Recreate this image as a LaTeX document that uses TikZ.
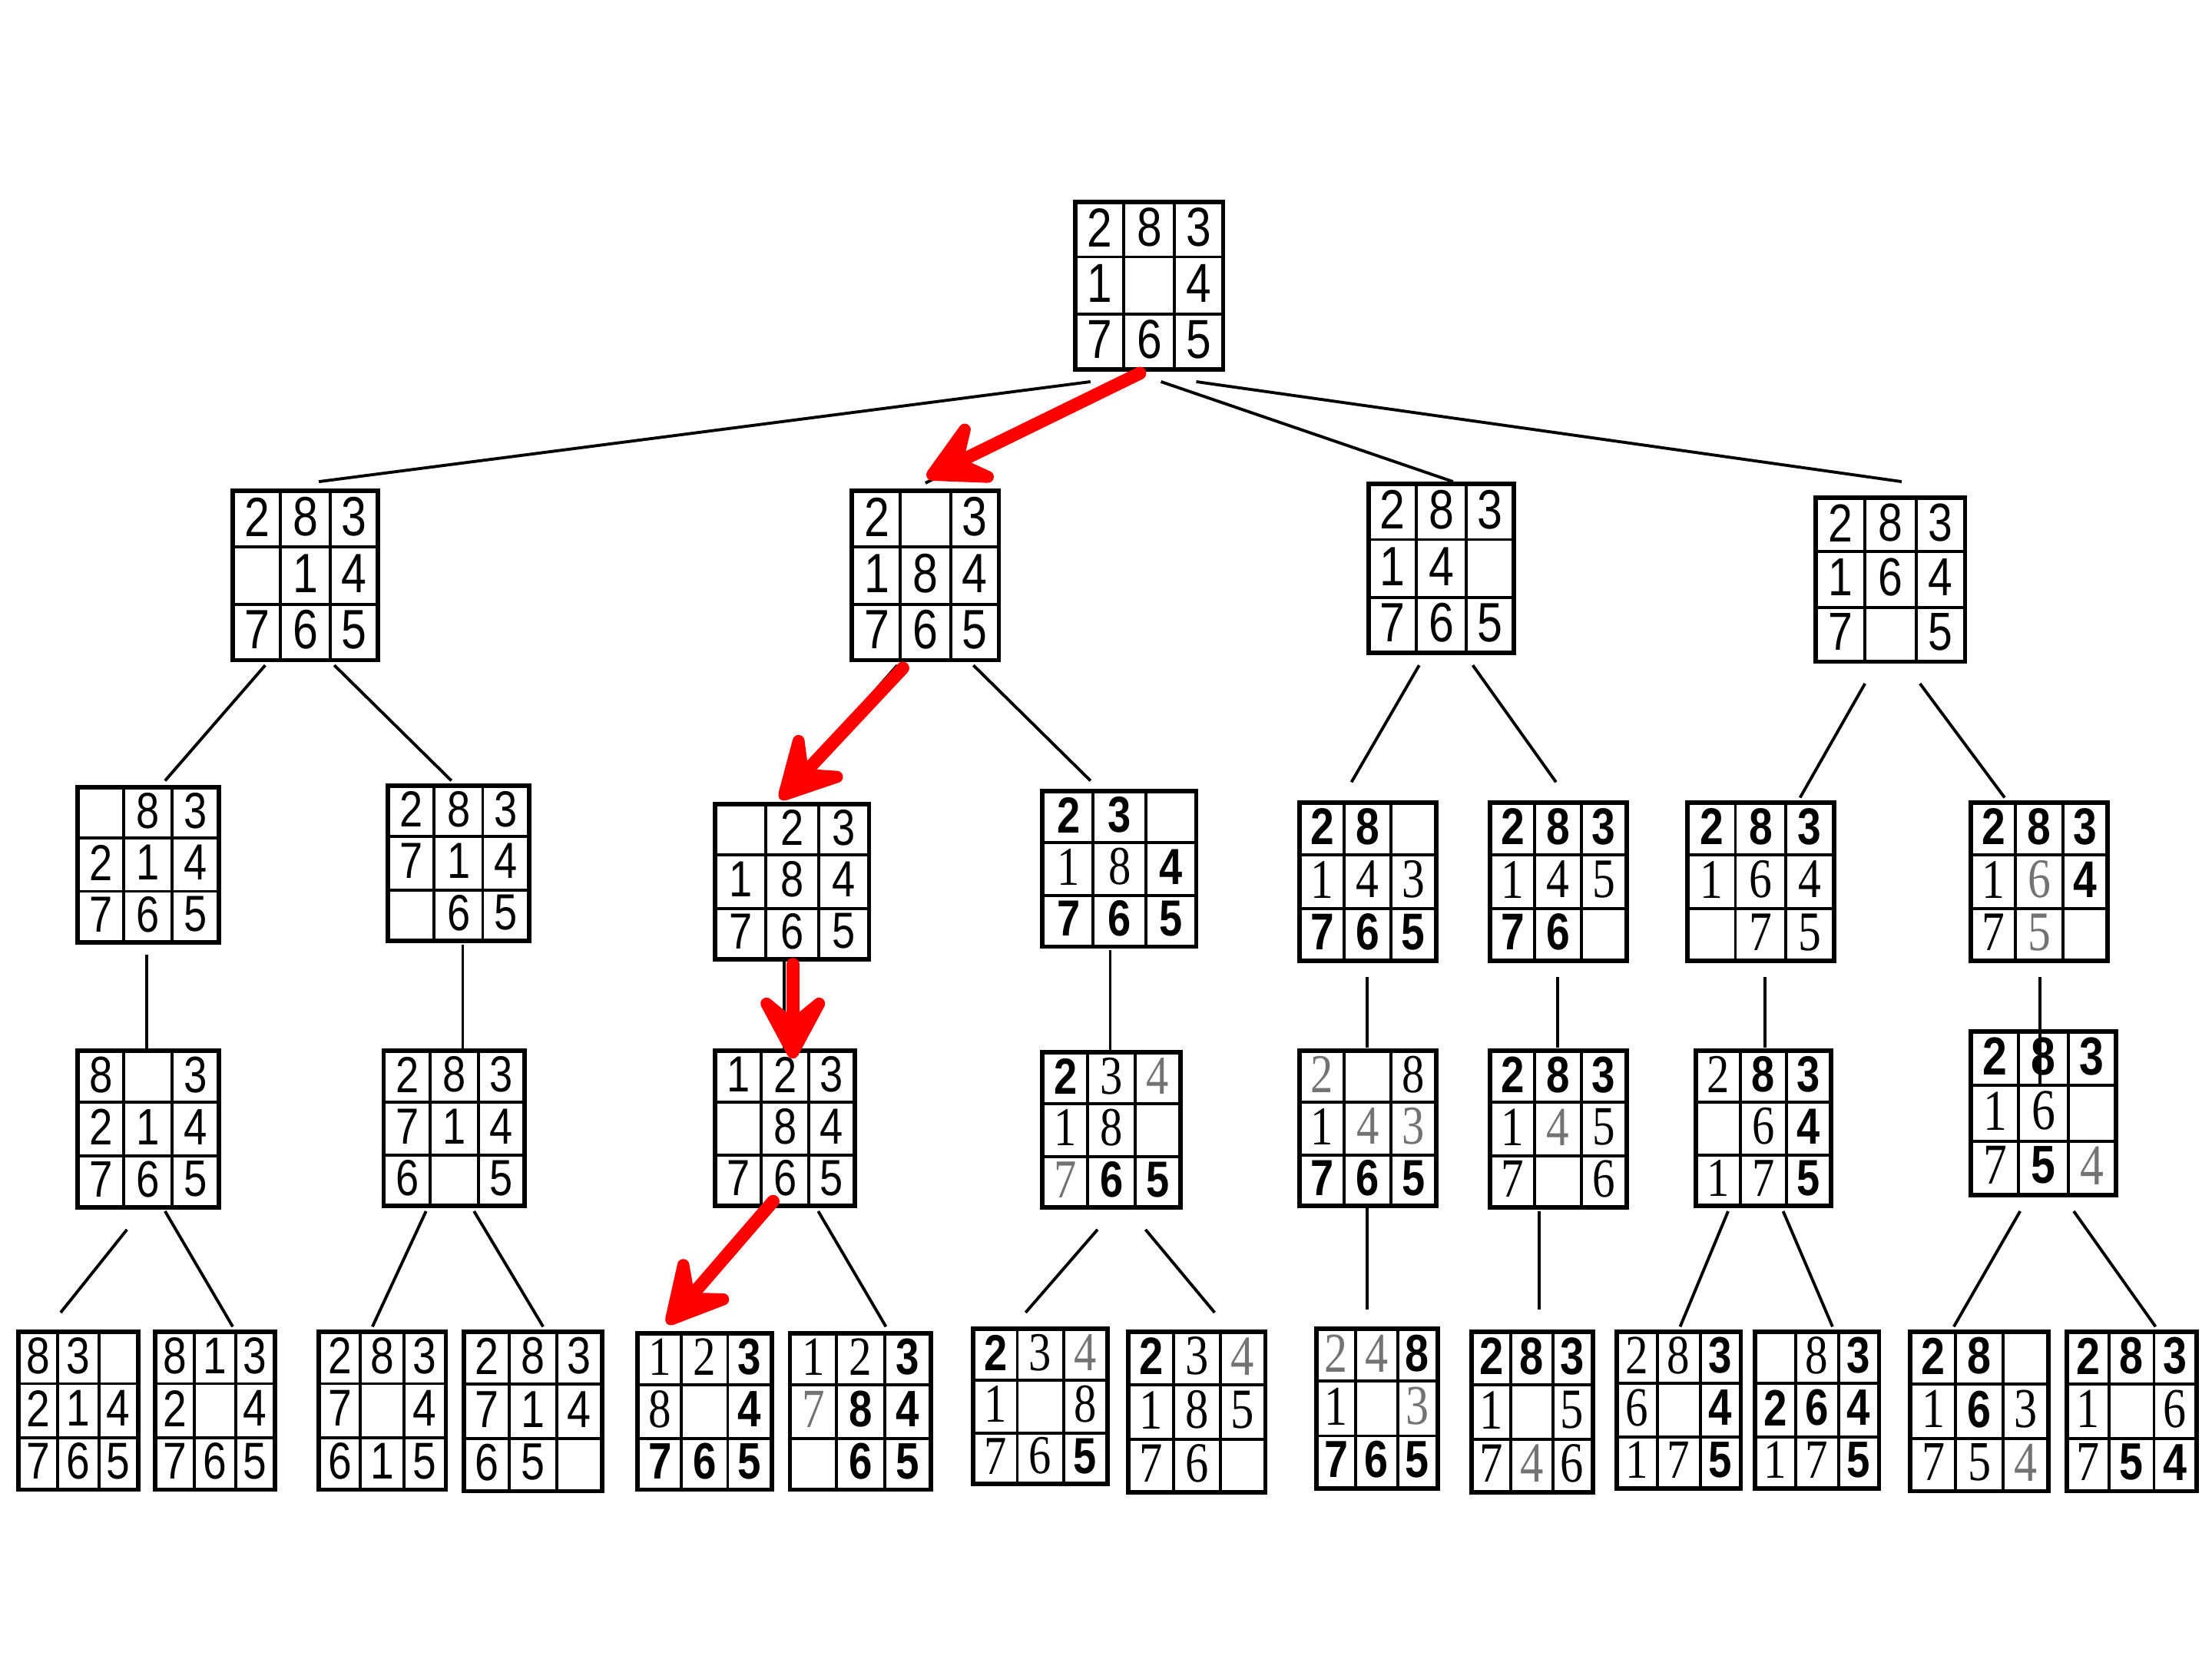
\documentclass[tikz,border=0pt]{standalone}
\usepackage{fontspec}
\setsansfont{Liberation Sans}
\newfontfamily\serifdig{Liberation Serif}
\usetikzlibrary{arrows.meta, calc}

% digit faces used in the lower boards
\newcommand{\bd}[1]{{\bfseries #1}}
\newcommand{\sr}[1]{{\serifdig\scalebox{1.08}{#1}}}
\newcommand{\gy}[1]{{\serifdig\color{black!55}\scalebox{1.08}{#1}}}

% 3x3 board: name, left, top, right, bottom, cells
\newcommand{\puzzle}[6]{%
  \pgfmathsetmacro\bw{#4-#2}%
  \pgfmathsetmacro\bh{#5-#3}%
  \pgfmathsetmacro\fs{\bh*0.093}%
  \node[stateframe, minimum width=\bw*0.01cm, minimum height=\bh*0.01cm] (#1) at ({(#2+#4)/2},{(#3+#5)/2}) {};
  \foreach \k in {1,2} {
    \draw[cellline] ($(#1.north west)!\k/3!(#1.north east)$) -- ($(#1.south west)!\k/3!(#1.south east)$);
    \draw[cellline] ($(#1.north west)!\k/3!(#1.south west)$) -- ($(#1.north east)!\k/3!(#1.south east)$);
  }
  \foreach \c [count=\i from 0] in {#6} {
    \pgfmathtruncatemacro\row{\i/3}
    \pgfmathtruncatemacro\col{mod(\i,3)}
    \node[digit] at ($(#1.north west)+({(\col+0.55)*\bw/3},{(\row+0.5)*\bh/3})$) {\scalebox{0.82}[1]{\c}};
  }
}

\begin{document}
\begin{tikzpicture}[
    x=0.01cm, y=-0.01cm,
    stateframe/.style={draw, line width=0.9pt, fill=white, inner sep=0pt},
    cellline/.style={line width=0.6pt},
    digit/.style={inner sep=0pt, font=\sffamily\fontsize{\fs}{\fs}\selectfont},
    link/.style={line width=0.6pt},
    bestmove/.style={draw=red, line width=2.6pt, line cap=round,
        -{Stealth[length=6mm, width=6.4mm, inset=2.6mm, round]}}
]
    \useasboundingbox (0,0) rectangle (1568,1176);

    % Start state
    \puzzle{s0}{762}{143}{867}{262}{2,8,3,1,{},4,7,6,5}

    % --- Level 1 ---
    \puzzle{s1}{165}{348}{268}{468}{2,8,3,{},1,4,7,6,5}
    \puzzle{s2}{604}{348}{708}{468}{2,{},3,1,8,4,7,6,5}
    \puzzle{s3}{970}{343}{1073}{463}{2,8,3,1,4,{},7,6,5}
    \puzzle{s4}{1287}{353}{1393}{469}{2,8,3,1,6,4,7,{},5}

    % --- Level 2 ---
    \puzzle{s11}{55}{558}{155}{668}{{},8,3,2,1,4,7,6,5}
    \puzzle{s12}{275}{557}{375}{667}{2,8,3,7,1,4,{},6,5}
    \puzzle{s21}{507}{570}{616}{680}{{},2,3,1,8,4,7,6,5}
    \puzzle{s22}{739}{561}{848}{671}{\bd2,\bd3,{},\sr1,\sr8,\bd4,\bd7,\bd6,\bd5}
    \puzzle{s31}{921}{569}{1018}{681}{\bd2,\bd8,{},\sr1,\sr4,\sr3,\bd7,\bd6,\bd5}
    \puzzle{s32}{1056}{569}{1153}{681}{\bd2,\bd8,\bd3,\sr1,\sr4,\sr5,\bd7,\bd6,{}}
    \puzzle{s41}{1196}{569}{1300}{681}{\bd2,\bd8,\bd3,\sr1,\sr6,\sr4,{},\sr7,\sr5}
    \puzzle{s42}{1397}{569}{1494}{681}{\bd2,\bd8,\bd3,\sr1,\gy6,\bd4,\sr7,\gy5,{}}

    % --- Level 3 ---
    \puzzle{s111}{55}{745}{155}{856}{8,{},3,2,1,4,7,6,5}
    \puzzle{s121}{272}{745}{372}{855}{2,8,3,7,1,4,6,{},5}
    \puzzle{s211}{507}{745}{606}{855}{1,2,3,{},8,4,7,6,5}
    \puzzle{s221}{739}{746}{837}{856}{\bd2,\sr3,\gy4,\sr1,\sr8,{},\gy7,\bd6,\bd5}
    \puzzle{s311}{921}{745}{1018}{855}{\gy2,{},\sr8,\sr1,\gy4,\gy3,\bd7,\bd6,\bd5}
    \puzzle{s321}{1056}{745}{1153}{856}{\bd2,\bd8,\bd3,\sr1,\gy4,\sr5,\sr7,{},\sr6}
    \puzzle{s411}{1202}{745}{1298}{855}{\sr2,\bd8,\bd3,{},\sr6,\bd4,\sr1,\sr7,\bd5}
    \puzzle{s421}{1397}{731}{1500}{847}{\bd2,\bd8,\bd3,\sr1,\sr6,{},\sr7,\bd5,\gy4}

    % --- Level 4 ---
    \puzzle{s1111}{13}{944}{98}{1056}{8,3,{},2,1,4,7,6,5}
    \puzzle{s1112}{110}{944}{195}{1056}{8,1,3,2,{},4,7,6,5}
    \puzzle{s1211}{226}{944}{316}{1056}{2,8,3,7,{},4,6,1,5}
    \puzzle{s1212}{329}{944}{427}{1057}{2,8,3,7,1,4,6,5,{}}
    \puzzle{s2111}{452}{945}{547}{1056}{\sr1,\sr2,\bd3,\sr8,{},\bd4,\bd7,\bd6,\bd5}
    \puzzle{s2112}{560}{945}{660}{1056}{\sr1,\sr2,\bd3,\gy7,\bd8,\bd4,{},\bd6,\bd5}
    \puzzle{s2211}{690}{942}{785}{1052}{\bd2,\sr3,\gy4,\sr1,{},\sr8,\sr7,\sr6,\bd5}
    \puzzle{s2212}{800}{944}{897}{1058}{\bd2,\sr3,\gy4,\sr1,\sr8,\sr5,\sr7,\sr6,{}}
    \puzzle{s3111}{933}{942}{1019}{1055}{\gy2,\gy4,\bd8,\sr1,{},\gy3,\bd7,\bd6,\bd5}
    \puzzle{s3211}{1043}{944}{1129}{1058}{\bd2,\bd8,\bd3,\sr1,{},\sr5,\sr7,\gy4,\sr6}
    \puzzle{s4111}{1146}{944}{1234}{1055}{\sr2,\sr8,\bd3,\sr6,{},\bd4,\sr1,\sr7,\bd5}
    \puzzle{s4112}{1244}{944}{1332}{1055}{{},\sr8,\bd3,\bd2,\bd6,\bd4,\sr1,\sr7,\bd5}
    \puzzle{s4211}{1354}{944}{1452}{1057}{\bd2,\bd8,{},\sr1,\bd6,\sr3,\sr7,\sr5,\gy4}
    \puzzle{s4212}{1465}{944}{1557}{1057}{\bd2,\bd8,\bd3,\sr1,{},\sr6,\sr7,\bd5,\bd4}

    % --- Tree links ---
    \draw[link] ($(s0.south)+(-41.5,7)$) -- ($(s1.north)+(9.5,-5)$);
    \draw[link] ($(s0.south)+(-14.5,7)$) -- ($(s2.north)+(0,-4)$);
    \draw[link] ($(s0.south)+(8.5,7)$) -- ($(s3.north)+(8.5,0)$);
    \draw[link] ($(s0.south)+(33.5,7)$) -- ($(s4.north)+(8,-10)$);

    \draw[link] ($(s1.south)+(-28.5,2)$) -- ($(s11.north)+(12,-3)$);
    \draw[link] ($(s1.south)+(20.5,2)$) -- ($(s12.north)+(-5,-2)$);
    \draw[link] ($(s2.south)+(-20,2)$) -- ($(s21.north)+(-8.5,-2)$);
    \draw[link] ($(s2.south)+(34,2)$) -- ($(s22.north)+(-20.5,-6)$);
    \draw[link] ($(s3.south)+(-15.5,7)$) -- ($(s31.north)+(-11.5,-13)$);
    \draw[link] ($(s3.south)+(22.5,7)$) -- ($(s32.north)+(-1.5,-13)$);
    \draw[link] ($(s4.south)+(-18,14)$) -- ($(s41.north)+(28,-2)$);
    \draw[link] ($(s4.south)+(21,14)$) -- ($(s42.north)+(-24.5,-2)$);

    \draw[link] ($(s11.south)+(-1,7)$) -- ($(s111.north)+(-1,0)$);
    \draw[link] ($(s12.south)+(3,1)$) -- ($(s121.north)+(6,0)$);
    \draw[link] ($(s21.south)+(-5.5,0)$) -- ($(s211.north)+(-0.5,0)$);
    \draw[link] ($(s22.south)+(-6.5,1)$) -- ($(s221.north)+(-1,0)$);
    \draw[link] ($(s31.south)+(-0.5,10)$) -- ($(s311.north)+(-0.5,-1)$);
    \draw[link] ($(s32.south)+(-0.5,10)$) -- ($(s321.north)+(-0.5,-1)$);
    \draw[link] ($(s41.south)+(3,10)$) -- ($(s411.north)+(1,-1)$);
    \draw[link] ($(s42.south)+(0.5,10)$) -- ($(s421.north)+(-2.5,39)$);

    \draw[link] ($(s111.south)+(-15,14)$) -- ($(s1111.north)+(-12.5,-12)$);
    \draw[link] ($(s111.south)+(12,1)$) -- ($(s1112.north)+(12.5,-2)$);
    \draw[link] ($(s121.south)+(-20,2)$) -- ($(s1211.north)+(-7,-2)$);
    \draw[link] ($(s121.south)+(14,2)$) -- ($(s1212.north)+(7,-2)$);
    \draw[link] ($(s211.south)+(-8.5,-5)$) -- ($(s2111.north)+(-26.5,-5)$);
    \draw[link] ($(s211.south)+(23.5,2)$) -- ($(s2112.north)+(18,-3)$);
    \draw[link] ($(s221.south)+(-10,14)$) -- ($(s2211.north)+(-10.5,-10)$);
    \draw[link] ($(s221.south)+(24,14)$) -- ($(s2212.north)+(12.5,-12)$);
    \draw[link] ($(s311.south)+(-0.5,0)$) -- ($(s3111.north)+(-7,-12)$);
    \draw[link] ($(s321.south)+(-13.5,1)$) -- ($(s3211.north)+(5,-14)$);
    \draw[link] ($(s411.south)+(-25,2)$) -- ($(s4111.north)+(1,-2)$);
    \draw[link] ($(s411.south)+(14,2)$) -- ($(s4112.north)+(11,-2)$);
    \draw[link] ($(s421.south)+(-16.5,10)$) -- ($(s4211.north)+(-18,-2)$);
    \draw[link] ($(s421.south)+(21.5,10)$) -- ($(s4212.north)+(17,-2)$);

    % --- Solution path ---
    \draw[bestmove] ($(s0.south)+(-6.5,1)$) -- ($(s2.north)+(1,-8)$);
    \draw[bestmove] ($(s2.south)+(-16,4)$) -- ($(s21.north)+(-8.5,-2)$);
    \draw[bestmove] ($(s21.south)+(0.5,2)$) -- ($(s211.north)+(5.5,7)$);
    \draw[bestmove] ($(s211.south)+(-8.5,-5)$) -- ($(s2111.north)+(-26.5,-5)$);

\end{tikzpicture}
\end{document}
